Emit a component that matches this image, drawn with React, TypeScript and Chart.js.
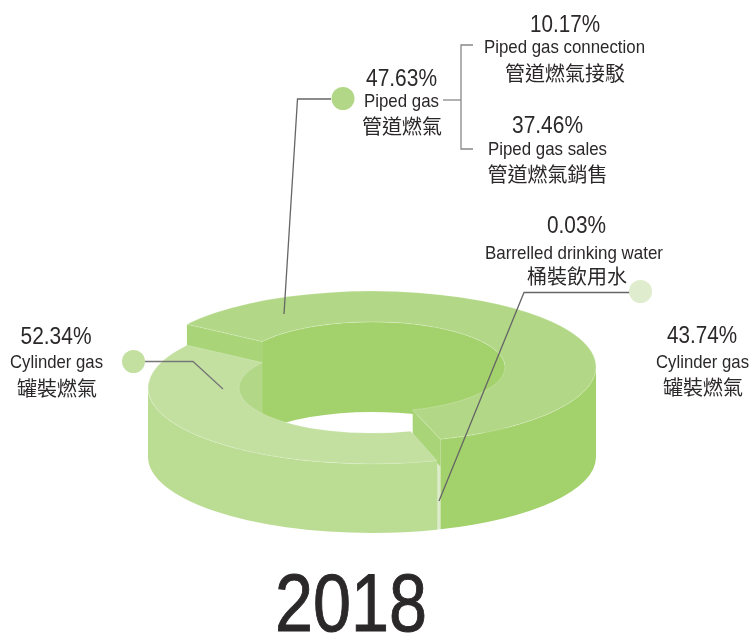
import React, { useEffect, useRef } from "react";
import { Chart, registerables } from "chart.js";

Chart.register(...registerables);

// Slice shares as read from the drawn ring (degrees of arc / 360)
const sliceNames = ["Piped gas", "Barrelled drinking water", "Cylinder gas"];
const sliceShares = [60.53, 0.25, 39.22];
const yearLabel = "2018";

const percentLabels = ["10.17%", "47.63%", "37.46%", "0.03%", "43.74%", "52.34%"];
const englishLabels = ["Piped gas connection", "Piped gas", "Piped gas sales", "Barrelled drinking water", "Cylinder gas", "Cylinder gas"];
const chineseLabels = ["管道燃氣接駁", "管道燃氣", "管道燃氣銷售", "桶裝飲用水", "罐裝燃氣", "罐裝燃氣"];

// layout of each text block: centre x, baselines, widths
const BLOCKS = [
  { x: [565, 564.5, 565], y: [32, 53, 81], w: [70, 161, 122] },
  { x: [401.5, 401.5, 402], y: [86, 107, 134], w: [71, 75, 80] },
  { x: [547.5, 547.5, 547.5], y: [133, 155, 182], w: [71, 119, 121] },
  { x: [576.5, 574, 577], y: [233, 259, 284], w: [59, 178, 100] },
  { x: [702, 702.5, 703], y: [343, 368, 395], w: [70, 93, 80] },
  { x: [56, 56.5, 57], y: [344, 368, 396], w: [71, 93, 80] },
];

const SANS = '"Liberation Sans", Arial, sans-serif';
const CJK = '"Noto Sans CJK TC", sans-serif';
const TEXT = "#2b2829";

const RATIO = 0.339;
const BASE_OFFSET = 457;
const STYLE = [
  { top: "#b2d887", side: "#a3d16b", cut: "#a9d478", inner: "#a3d16b", topY: 367 },
  { top: "#dcebc8", side: "#dcebc8", cut: "#dcebc8", inner: "#dcebc8", topY: 394.5 },
  { top: "#c3e0a1", side: "#bbdc93", cut: "#bbdc93", inner: "#b2d887", topY: 388 },
];

const DOTS = [
  { x: 343, y: 98.5, r: 11.5, c: "#b2d887" },
  { x: 640.5, y: 291.5, r: 11.5, c: "#dfeccd" },
  { x: 133.5, y: 361.5, r: 11.5, c: "#c3e0a1" },
];
const LEADERS = [
  { c: "#666666", w: 1.3, p: [[331, 99], [297.5, 99], [284, 314]] },
  { c: "#666666", w: 1.3, p: [[630, 292.5], [524, 292.5], [439, 501]] },
  { c: "#777777", w: 1.3, p: [[145, 361.5], [193, 361.5], [223, 389]] },
  { c: "#888888", w: 1.3, p: [[443, 100], [461, 100]] },
  { c: "#888888", w: 1.3, p: [[473, 45], [461, 45], [461, 149], [473, 149]] },
];

const TAU = Math.PI * 2;

function wall(ctx: any, cx: number, r: number, a0: number, a1: number, topY: number, baseY: number, color: string) {
  ctx.beginPath();
  ctx.ellipse(cx, topY, r, r * RATIO, 0, a0, a1, false);
  ctx.ellipse(cx, baseY, r, r * RATIO, 0, a1, a0, true);
  ctx.closePath();
  ctx.fillStyle = color;
  ctx.fill();
}

function walls(ctx: any, cx: number, r: number, start: number, end: number, phase: number, topY: number, baseY: number, color: string) {
  for (let k = -1; k <= 2; k++) {
    const lo = Math.max(start, TAU * k + phase);
    const hi = Math.min(end, TAU * k + phase + Math.PI);
    if (hi > lo) wall(ctx, cx, r, lo, hi, topY, baseY, color);
  }
}

function cut(ctx: any, cx: number, ri: number, ro: number, a: number, topY: number, baseY: number, color: string) {
  const c = Math.cos(a), s = Math.sin(a);
  ctx.beginPath();
  ctx.moveTo(cx + ri * c, topY + ri * RATIO * s);
  ctx.lineTo(cx + ro * c, topY + ro * RATIO * s);
  ctx.lineTo(cx + ro * c, baseY + ro * RATIO * s);
  ctx.lineTo(cx + ri * c, baseY + ri * RATIO * s);
  ctx.closePath();
  ctx.fillStyle = color;
  ctx.fill();
}

const ring3d = {
  id: "ring3d",
  beforeDatasetDraw(chart: any) {
    const ctx = chart.ctx;
    const arcs = chart.getDatasetMeta(0).data;
    arcs.forEach((arc: any, i: number) => {
      const st = STYLE[i];
      const { x: cx, startAngle: a0, endAngle: a1, innerRadius: ri, outerRadius: ro } = arc;
      walls(ctx, cx, ri, a0, a1, Math.PI, st.topY, BASE_OFFSET, st.inner);
      walls(ctx, cx, ro, a0, a1, 0, st.topY, BASE_OFFSET, st.side);
      if (-Math.cos(a0) > 0) cut(ctx, cx, ri, ro, a0, st.topY, BASE_OFFSET, st.cut);
      if (Math.cos(a1) > 0) cut(ctx, cx, ri, ro, a1, st.topY, BASE_OFFSET, st.cut);
      ctx.save();
      ctx.translate(cx, st.topY);
      ctx.scale(1, RATIO);
      ctx.translate(-arc.x, -arc.y);
      arc.draw(ctx);
      ctx.restore();
      // faint seam round the top face
      ctx.beginPath();
      ctx.ellipse(cx, st.topY, ro, ro * RATIO, 0, a0, a1, false);
      ctx.ellipse(cx, st.topY, ri, ri * RATIO, 0, a1, a0, true);
      ctx.closePath();
      ctx.strokeStyle = "rgba(255,255,255,0.3)";
      ctx.lineWidth = 0.7;
      ctx.stroke();
    });
    return false;
  },
  afterDraw(chart: any) {
    const ctx = chart.ctx;
    ctx.save();
    LEADERS.forEach((l) => {
      ctx.beginPath();
      l.p.forEach(([x, y], i) => (i ? ctx.lineTo(x, y) : ctx.moveTo(x, y)));
      ctx.strokeStyle = l.c;
      ctx.lineWidth = l.w;
      ctx.stroke();
    });
    DOTS.forEach((d) => {
      ctx.beginPath();
      ctx.arc(d.x, d.y, d.r, 0, TAU);
      ctx.fillStyle = d.c;
      ctx.fill();
    });
    ctx.fillStyle = TEXT;
    ctx.strokeStyle = TEXT;
    ctx.textAlign = "center";
    ctx.textBaseline = "alphabetic";
    BLOCKS.forEach((b, i) => {
      ctx.font = `24px ${SANS}`;
      ctx.fillText(percentLabels[i], b.x[0], b.y[0], b.w[0]);
      ctx.font = `18.5px ${SANS}`;
      ctx.fillText(englishLabels[i], b.x[1], b.y[1], b.w[1]);
      ctx.font = `20px ${CJK}`;
      ctx.fillText(chineseLabels[i], b.x[2], b.y[2], b.w[2]);
    });
    ctx.font = `82px ${SANS}`;
    ctx.lineWidth = 1;
    ctx.fillText(yearLabel, 351, 631, 152);
    ctx.strokeText(yearLabel, 351, 631, 152);
    ctx.restore();
  },
};

export default function App() {
  const ref = useRef<HTMLCanvasElement>(null);
  useEffect(() => {
    document.body.style.margin = "0";
    const chart = new Chart(ref.current as HTMLCanvasElement, {
      type: "doughnut",
      data: {
        labels: sliceNames,
        datasets: [
          {
            data: sliceShares,
            backgroundColor: STYLE.map((s) => s.top),
            borderWidth: 0,
            hoverOffset: 0,
          },
        ],
      },
      options: {
        responsive: false,
        animation: false,
        rotation: 304.3,
        cutout: "59.4%",
        layout: { padding: { left: 148, right: 156, top: 0, bottom: 185 } },
        plugins: { legend: { display: false }, tooltip: { enabled: false }, title: { display: false } },
        events: [],
      },
      plugins: [ring3d],
    } as any);
    return () => chart.destroy();
  }, []);
  return (
    <div style={{ width: 752, height: 633, background: "#fff" }}>
      <canvas ref={ref} width={752} height={633} style={{ display: "block" }} />
    </div>
  );
}
